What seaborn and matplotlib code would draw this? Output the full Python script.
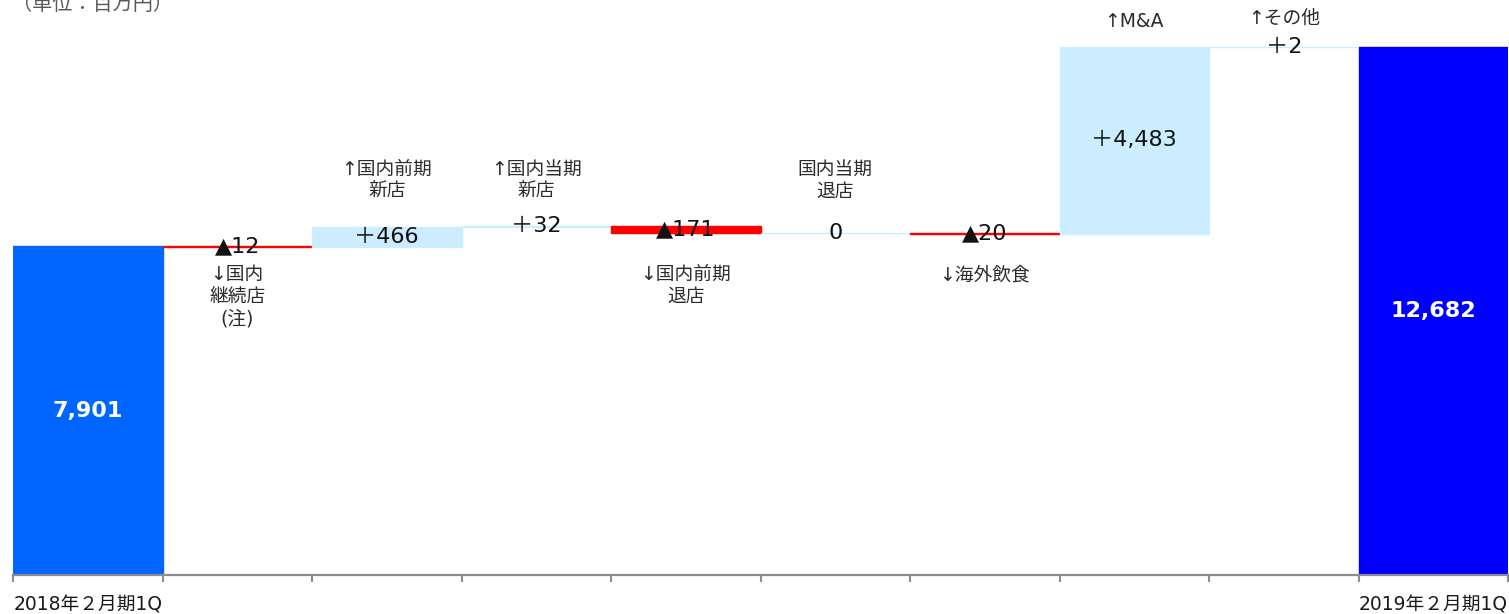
import matplotlib
matplotlib.use("Agg")
import matplotlib.pyplot as plt
import numpy as np
import pandas as pd
import seaborn as sns

# ---------------- data ----------------
categories = ["2018年２月期1Q", "国内継続店", "国内前期新店", "国内当期新店", "国内前期退店",
              "国内当期退店", "海外飲食", "M&A", "その他", "2019年２月期1Q"]
start_value = 7901
changes = [-12, 466, 32, -171, 0, -20, 4483, 2]
end_value = 12682
value_labels = ["7,901", "▲12", "＋466", "＋32", "▲171", "0", "▲20", "＋4,483", "＋2", "12,682"]
tick_labels = ["2018年２月期1Q", "", "", "", "", "", "", "", "", "2019年２月期1Q"]
notes = ["", "↓国内\n継続店\n(注)", "↑国内前期\n新店", "↑国内当期\n新店", "↓国内前期\n退店",
         "国内当期\n退店", "↓海外飲食", "↑M&A", "↑その他", ""]
unit_text = "（単位：百万円）"

# ---------------- layout / style ----------------
note_side = ["", "below", "above", "above", "below", "above", "below", "above", "above", ""]
note_y = [None, 7445, 8983, 8983, 7445, 8983, 7445, 13065, 13137, None]
C_START, C_END, C_UP, C_DOWN = "#0066FF", "#0000FF", "#CCECFF", "#FF0000"
FAM = ["DejaVu Sans", "Noto Sans CJK JP"]

sns.set_theme(style="white")
plt.rcParams["font.family"] = FAM

# waterfall geometry derived from the data
levels = np.cumsum([start_value] + changes)
bottoms = [0] + list(levels[:-1]) + [0]
heights = [start_value] + changes + [end_value]
colors = [C_START] + [C_UP if c >= 0 else C_DOWN for c in changes] + [C_END]
df = pd.DataFrame({"cat": categories, "height": heights})

fig = plt.figure(figsize=(15.09, 6.14), dpi=100)
ax = fig.add_axes([13 / 1509, 39 / 614, 1495 / 1509, 575 / 614])

sns.barplot(data=df, x="cat", y="height", order=categories, ax=ax, width=1.0,
            errorbar=None, color=C_START, saturation=1, bottom=bottoms,
            facecolor=colors, edgecolor=colors, linewidth=1.0)

ax.set_xlim(-0.5, len(categories) - 0.5)
ax.set_ylim(0, 13810)
ax.set_xlabel("")
ax.set_ylabel("")
ax.set_yticks([])
for s in ["left", "right", "top"]:
    ax.spines[s].set_visible(False)
ax.spines["bottom"].set_color("#8C8C8C")
ax.spines["bottom"].set_linewidth(1.6)

# boundary ticks (major), centred labels (minor)
ax.set_xticks(np.arange(-0.5, len(categories), 1.0))
ax.set_xticklabels([])
ax.set_xticks(np.arange(len(categories)), minor=True)
ax.set_xticklabels(tick_labels, minor=True, fontsize=13.5, color="#1a1a1a", family=FAM)
ax.tick_params(axis="x", which="major", length=5, width=1.5, color="#8C8C8C", direction="out", bottom=True)
ax.tick_params(axis="x", which="minor", length=0, pad=15, bottom=True)

# value labels
for i, (b, h, lab) in enumerate(zip(bottoms, heights, value_labels)):
    mid = b + h / 2
    if i in (0, len(categories) - 1):
        ax.text(i, mid, lab, ha="center", va="center", color="white", fontsize=16,
                fontweight="bold", family=FAM)
    else:
        ax.text(i, mid, lab, ha="center", va="center", color="#111111", fontsize=16, family=FAM)

# category notes
for i, (n, side, y) in enumerate(zip(notes, note_side, note_y)):
    if not n:
        continue
    ax.text(i, y, n, ha="center", va="bottom" if side == "above" else "top",
            fontsize=13.5, color="#2b2b2b", family=FAM, linespacing=1.2)

fig.text(12 / 1509, 1 - 4 / 614, unit_text, ha="left", va="center", fontsize=14.5,
         color="#595959", family=FAM)

fig.savefig("out.png", dpi=100)
